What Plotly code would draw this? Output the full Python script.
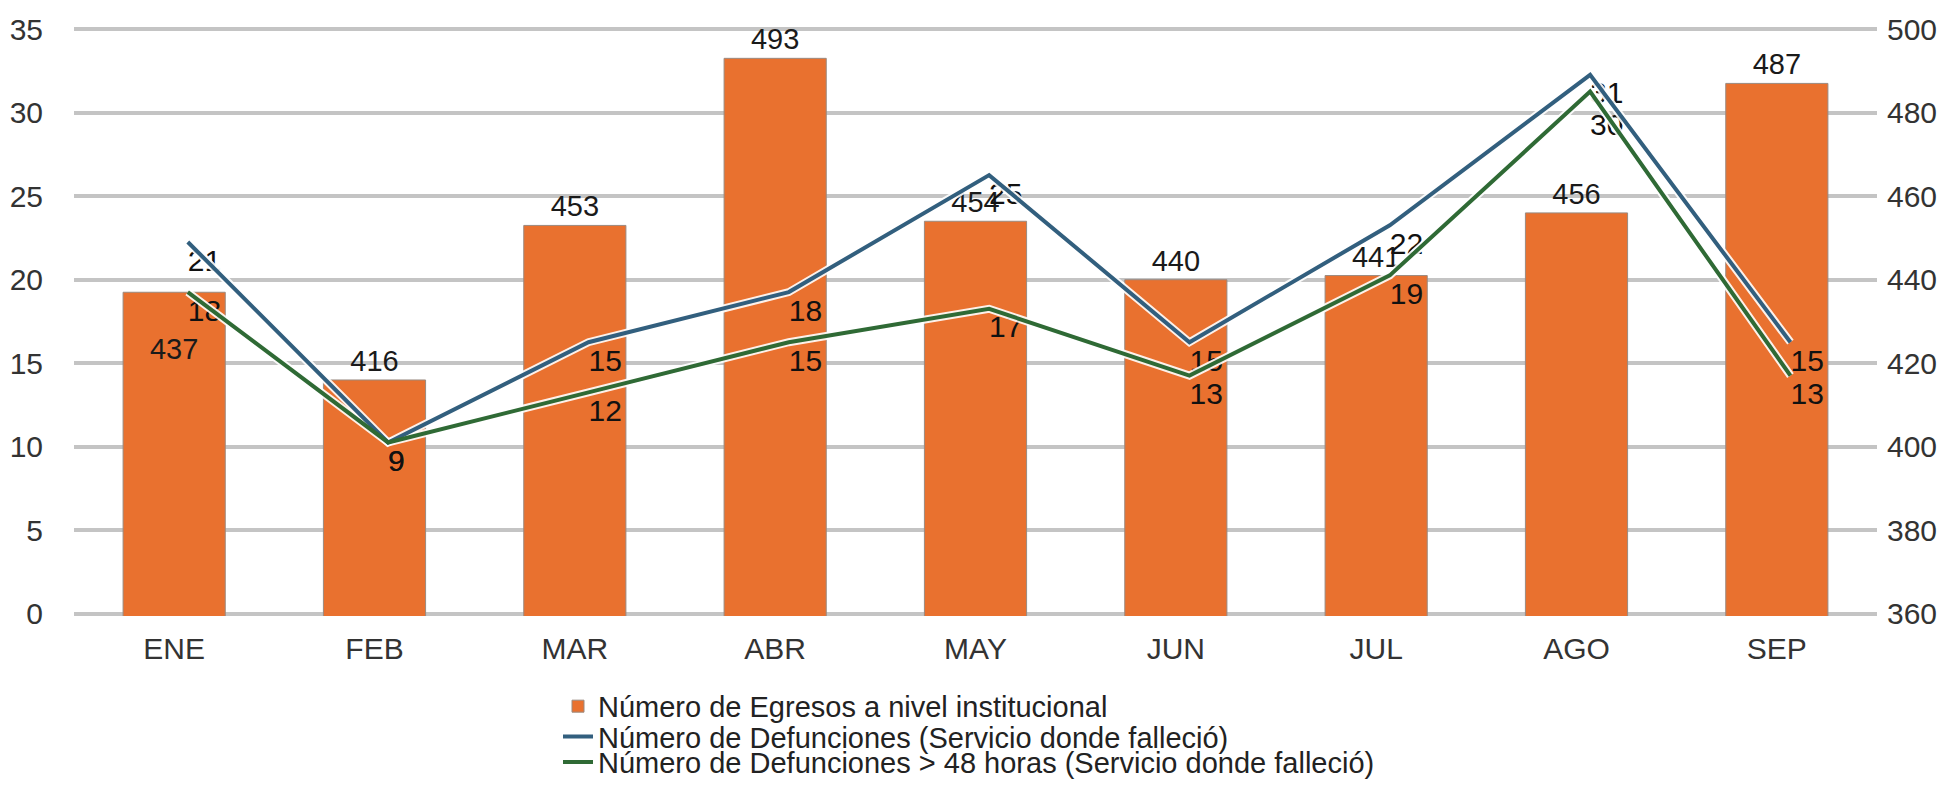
import plotly.graph_objects as go

# data
meses = ["ENE", "FEB", "MAR", "ABR", "MAY", "JUN", "JUL", "AGO", "SEP"]
egresos = [437, 416, 453, 493, 454, 440, 441, 456, 487]
defunciones = [21, 9, 15, 18, 25, 15, 22, 31, 15]
defunciones_48h = [18, 9, 12, 15, 17, 13, 19, 30, 13]

nombres = [
    "Número de Egresos a nivel institucional",
    "Número de Defunciones (Servicio donde falleció)",
    "Número de Defunciones > 48 horas (Servicio donde falleció)",
]

FONT = "Liberation Sans, Arial, sans-serif"
NARANJA = "#E9712F"
AZUL = "#325F7E"
VERDE = "#2F6A35"

# the line layer of the original sits slightly right and above the bars
x_shift = 0.068
y_shift = 1.26

# small extra room so plotly keeps the gridlines at 0/35 and 360/500
pad_frac = 0.0036

fig = go.Figure()

# bars on the main (right-hand) axis; the first label sits inside, a bit below the top
bar_pos = ["inside"] + ["outside"] * (len(meses) - 1)
bar_text = ["\u00a0<br>" + str(egresos[0])] + [str(v) for v in egresos[1:]]
fig.add_trace(go.Bar(
    x=meses, y=egresos, name=nombres[0],
    xaxis="x", yaxis="y",
    marker=dict(color=NARANJA, line=dict(color="#9a8a80", width=1)),
    width=0.51,
    text=bar_text, textposition=bar_pos,
    insidetextanchor="end",
    textfont=dict(family=FONT, size=29, color="#1a1a1a"),
    constraintext="none", cliponaxis=False,
    legend="legend",
))

# white halo under the lines
for vals in [defunciones, defunciones_48h]:
    fig.add_trace(go.Scatter(
        x=meses, y=vals, xaxis="x2", yaxis="y3", mode="lines",
        line=dict(color="rgba(255,255,255,0.9)", width=8),
        showlegend=False, hoverinfo="skip",
    ))

fig.add_trace(go.Scatter(
    x=meses, y=defunciones, name=nombres[1], xaxis="x2", yaxis="y3",
    mode="lines", line=dict(color=AZUL, width=4), legend="legend2",
))
fig.add_trace(go.Scatter(
    x=meses, y=defunciones_48h, name=nombres[2], xaxis="x2", yaxis="y3",
    mode="lines", line=dict(color=VERDE, width=4), legend="legend3",
))

# value labels of the lines, placed at the true values on the left axis
fig.add_trace(go.Scatter(
    x=meses, y=defunciones, xaxis="x2", yaxis="y2", mode="text",
    text=[str(v) for v in defunciones], textposition="middle right",
    textfont=dict(family=FONT, size=30, color="#111111"),
    showlegend=False, hoverinfo="skip", cliponaxis=False,
))
pos_48 = ["middle right"] * len(meses)
pos_48[7] = "bottom right"
fig.add_trace(go.Scatter(
    x=meses, y=defunciones_48h, xaxis="x2", yaxis="y2", mode="text",
    text=[str(v) for v in defunciones_48h], textposition=pos_48,
    textfont=dict(family=FONT, size=30, color="#111111"),
    showlegend=False, hoverinfo="skip", cliponaxis=False,
))

tick_font = dict(family=FONT, size=30, color="#333333")
legend_font = dict(family=FONT, size=29, color="#222222")

plot_top, plot_bottom = 21, 617
plot_left, plot_right = 66, 1869
grow = round((plot_bottom - plot_top) * pad_frac)


def padded(lo, hi):
    d = (hi - lo) * pad_frac
    return [lo - d, hi + d]


def leyenda(ypix):
    return dict(
        x=(550 - plot_left) / (plot_right - plot_left),
        y=(plot_bottom + grow - ypix) / (plot_bottom - plot_top + 2 * grow),
        xanchor="left", yanchor="middle",
        font=legend_font, bgcolor="rgba(0,0,0,0)",
    )


fig.update_layout(
    width=1949, height=792,
    margin=dict(l=plot_left, r=1949 - plot_right,
                t=plot_top - grow, b=792 - plot_bottom - grow),
    plot_bgcolor="white", paper_bgcolor="white",
    font=dict(family=FONT),
    xaxis=dict(
        type="category", range=[-0.5, 8.5], showgrid=False, showline=False,
        tickfont=tick_font, ticks="", ticklabelstandoff=12, tickangle=0,
        automargin=False,
    ),
    xaxis2=dict(
        type="category", overlaying="x", visible=False,
        range=[-0.5 - x_shift, 8.5 - x_shift], automargin=False,
    ),
    yaxis=dict(
        range=padded(360, 500), dtick=20, tick0=360, side="right",
        showgrid=True, gridcolor="#C4C4C4", gridwidth=4,
        zeroline=False, showline=False, ticks="",
        tickfont=tick_font, ticklabelstandoff=9, automargin=False,
    ),
    yaxis2=dict(
        range=padded(0, 35), dtick=5, tick0=0, overlaying="y", side="left",
        showgrid=False, zeroline=False, showline=False, ticks="",
        tickfont=tick_font, ticklabelstandoff=30, automargin=False,
    ),
    yaxis3=dict(
        range=padded(-y_shift, 35 - y_shift), overlaying="y", visible=False,
        automargin=False,
    ),
    legend=leyenda(711),
    legend2=leyenda(742),
    legend3=leyenda(768),
)

fig.write_html("out.html")
